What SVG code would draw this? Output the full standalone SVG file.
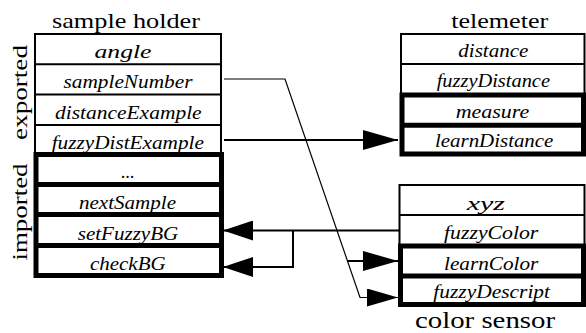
<svg xmlns="http://www.w3.org/2000/svg" width="586" height="333" viewBox="0 0 586 333">
<style>
.h{font-size:22px;text-anchor:middle}
.r{font-size:18px;font-style:italic;text-anchor:middle}
.thin{fill:#fff;stroke:#000;stroke-width:2}
.thick{fill:none;stroke:#000;stroke-width:5}
.sep{stroke:#000;stroke-width:2}
.tsep{stroke:#000;stroke-width:5}
.c{fill:none;stroke:#000;stroke-width:2}
.c1{fill:none;stroke:#000;stroke-width:1.2}
</style>
<defs>
<marker id="arr" markerUnits="userSpaceOnUse" markerWidth="30" markerHeight="20" refX="30" refY="10" orient="auto"><path d="M0,0 L30,10 L0,20 z" fill="#000"/></marker>
<marker id="arrL" markerUnits="userSpaceOnUse" markerWidth="35" markerHeight="20" refX="35" refY="10" orient="auto"><path d="M0,0 L35,10 L0,20 z" fill="#000"/></marker>
<marker id="arrS" markerUnits="userSpaceOnUse" markerWidth="31" markerHeight="18" refX="31" refY="9" orient="auto"><path d="M0,0 L31,9 L0,18 z" fill="#000"/></marker>
</defs>

<g id="sample-holder" font-family="Liberation Serif, Times New Roman, serif">
<text class="h" x="126" y="28" textLength="148" lengthAdjust="spacingAndGlyphs">sample holder</text>
<text class="h" transform="translate(27,92.5) rotate(-90)" x="0" y="0" textLength="95" lengthAdjust="spacingAndGlyphs">exported</text>
<text class="h" transform="translate(27,212) rotate(-90)" x="0" y="0" textLength="97" lengthAdjust="spacingAndGlyphs">imported</text>
<rect class="thin" x="35" y="34" width="186" height="121"/>
<line class="sep" x1="35" y1="64.3" x2="221" y2="64.3"/>
<line class="sep" x1="35" y1="94.6" x2="221" y2="94.6"/>
<line class="sep" x1="35" y1="124.9" x2="221" y2="124.9"/>
<rect class="thick" x="36" y="154.5" width="185.5" height="121"/>
<line class="tsep" x1="36" y1="184.5" x2="221.5" y2="184.5"/>
<line class="tsep" x1="36" y1="214.5" x2="221.5" y2="214.5"/>
<line class="tsep" x1="36" y1="245.5" x2="221.5" y2="245.5"/>
<text class="r" x="123" y="58" textLength="57" lengthAdjust="spacingAndGlyphs">angle</text>
<text class="r" x="128" y="88" textLength="129" lengthAdjust="spacingAndGlyphs">sampleNumber</text>
<text class="r" x="128.3" y="118.5" textLength="146.7" lengthAdjust="spacingAndGlyphs">distanceExample</text>
<text class="r" x="127.8" y="148.5" textLength="152.3" lengthAdjust="spacingAndGlyphs">fuzzyDistExample</text>
<text class="r" x="128" y="178">...</text>
<text class="r" x="127.5" y="209" textLength="97" lengthAdjust="spacingAndGlyphs">nextSample</text>
<text class="r" x="128" y="239.5" textLength="100.6" lengthAdjust="spacingAndGlyphs">setFuzzyBG</text>
<text class="r" x="127.8" y="270" textLength="75.7" lengthAdjust="spacingAndGlyphs">checkBG</text>
</g>

<g id="telemeter" font-family="Liberation Serif, Times New Roman, serif">
<text class="h" x="499.7" y="28" textLength="97" lengthAdjust="spacingAndGlyphs">telemeter</text>
<rect class="thin" x="401" y="34" width="183.5" height="61"/>
<line class="sep" x1="401" y1="64" x2="584.5" y2="64"/>
<rect class="thick" x="402" y="95" width="181.5" height="59"/>
<line class="tsep" x1="402" y1="125.3" x2="583.5" y2="125.3"/>
<text class="r" x="493.3" y="56.7" textLength="70" lengthAdjust="spacingAndGlyphs">distance</text>
<text class="r" x="493.3" y="87" textLength="113.3" lengthAdjust="spacingAndGlyphs">fuzzyDistance</text>
<text class="r" x="492.5" y="118" textLength="73.6" lengthAdjust="spacingAndGlyphs">measure</text>
<text class="r" x="494.2" y="146.7" textLength="118.3" lengthAdjust="spacingAndGlyphs">learnDistance</text>
</g>

<g id="color-sensor" font-family="Liberation Serif, Times New Roman, serif">
<rect class="thin" x="399.5" y="185" width="185" height="61"/>
<line class="sep" x1="399.5" y1="215" x2="584.5" y2="215"/>
<rect class="thick" x="400.5" y="246" width="183" height="58.5"/>
<line class="tsep" x1="400.5" y1="276" x2="583.5" y2="276"/>
<text class="r" x="485.8" y="210" textLength="38.3" lengthAdjust="spacingAndGlyphs">xyz</text>
<text class="r" x="491.2" y="239.3" textLength="94.3" lengthAdjust="spacingAndGlyphs">fuzzyColor</text>
<text class="r" x="491.2" y="270" textLength="94.3" lengthAdjust="spacingAndGlyphs">learnColor</text>
<text class="r" x="491.7" y="298.3" textLength="116.7" lengthAdjust="spacingAndGlyphs">fuzzyDescript</text>
<text class="h" style="font-size:23px" x="485" y="327.5" textLength="140" lengthAdjust="spacingAndGlyphs">color sensor</text>
</g>

<g id="connectors">
<path class="c1" d="M224,79 H285 L360,297.5 H398" marker-end="url(#arrS)"/>
<path class="c" d="M347,261 H398" marker-end="url(#arrL)"/>
<path class="c" d="M224,140 H398" marker-end="url(#arrL)"/>
<path class="c" d="M399,230.5 H223" marker-end="url(#arr)"/>
<path class="c" d="M293,230.5 V267 H223" marker-end="url(#arr)"/>
</g>
</svg>
